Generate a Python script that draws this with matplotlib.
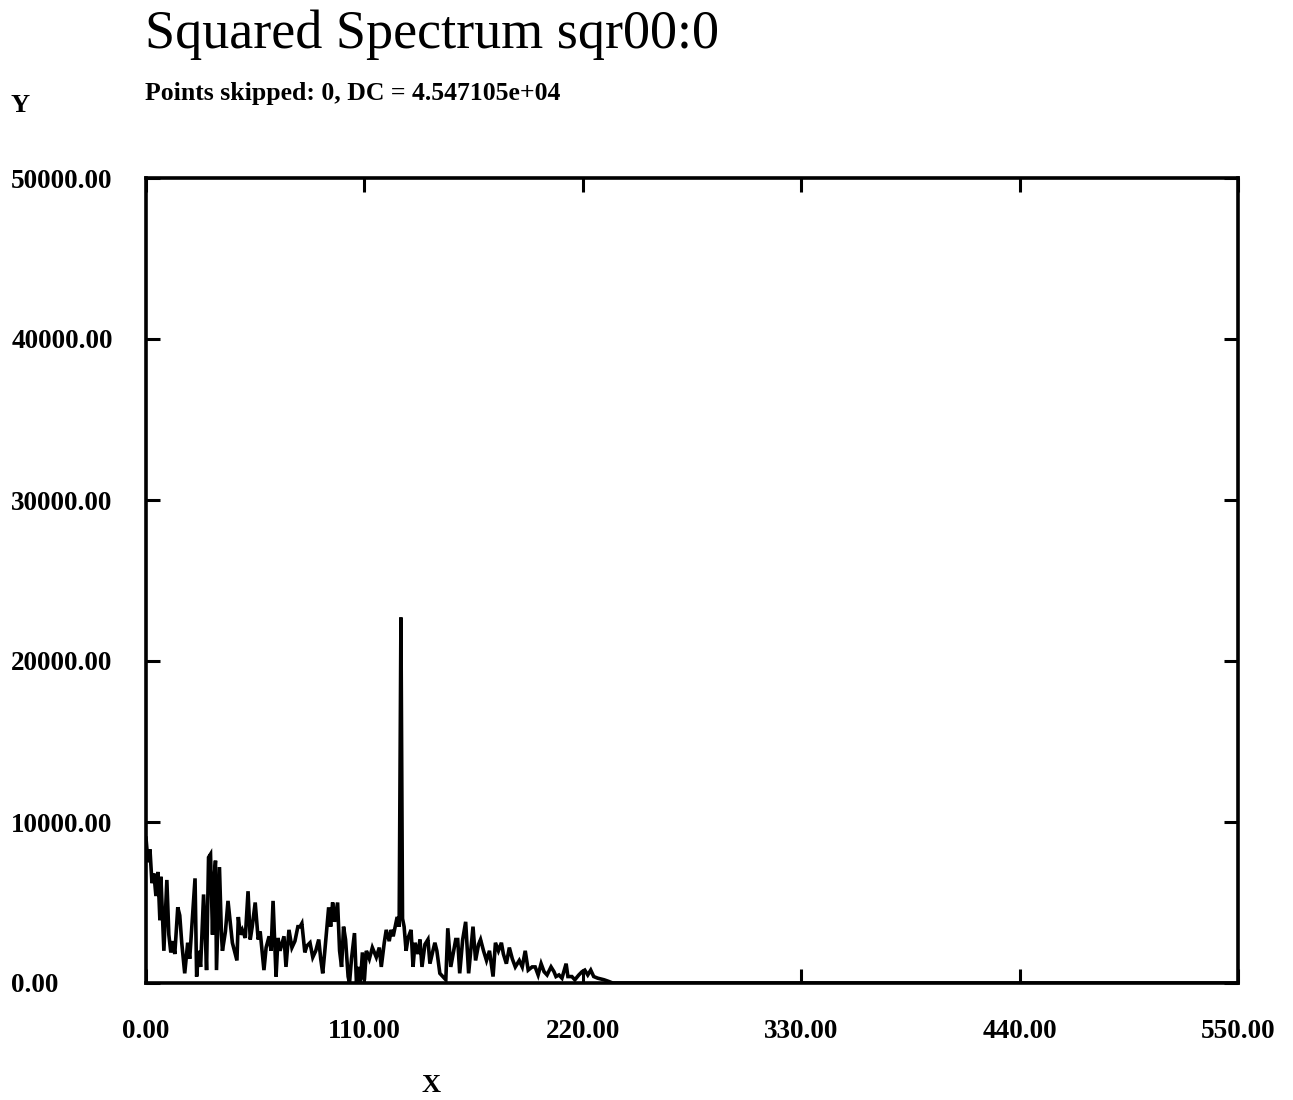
import matplotlib
matplotlib.use("Agg")
import matplotlib.pyplot as plt

plt.rcParams['font.family'] = ['Liberation Serif', 'DejaVu Serif']

# squared spectrum, frequency bin vs power
freq = [0, 1, 2, 3, 4, 5, 6, 7, 7.5, 9, 10.5, 11.5, 12.5, 13.5, 14.5, 16, 17, 18,
        19.5, 21, 22, 24.7, 25.5, 26.5, 27.5, 29, 30, 30.5, 31.5, 32.5, 33.5, 34,
        35, 35.5, 36.5, 37, 38, 38.5, 40, 41.3, 42.5, 43.5, 45.8, 46.5, 47.5, 48.5,
        50, 51.4, 52.5, 53.5, 55, 56.5, 57.5, 59.4, 60.5, 62, 63, 64, 65.5, 66.5,
        67.5, 69.5, 70.5, 72, 73.5, 75, 76.5, 77.6, 78.5, 80, 81, 82.6, 84, 85.5,
        87, 88, 89, 90, 92, 93, 94, 95, 96.5, 97.5, 98.5, 99.5, 100.5, 101.8, 102.5,
        103.5, 105, 106, 107, 108, 109, 110, 111, 112.5, 114, 116, 117.5, 118.5,
        120, 121, 122.5, 123.5, 124.5, 125.5, 126.5, 127.5, 128.4, 129.2, 130, 131,
        132, 133.5, 134.5, 135.5, 137, 138, 139, 140.5, 142, 143, 144.5, 145.5,
        146.5, 148, 151, 152, 153.5, 155, 156, 157, 158, 159.5, 161, 162.5, 164.7,
        166, 167.5, 168.5, 170, 171.5, 173, 174.8, 176, 177.5, 179, 180, 181.5, 183,
        184.5, 186, 188, 189.5, 191, 192.5, 194.5, 196, 197.5, 199, 200.5, 202, 204,
        205.5, 206.5, 208, 209.5, 211.6, 212.5, 214.5, 216, 218, 219.6, 221, 222.5,
        224, 225.5, 227.5, 230.7, 233, 235, 550]
power = [9000, 7500, 8300, 6200, 6800, 5400, 6900, 3900, 6600, 2000, 6400, 3000,
         1900, 2600, 1800, 4700, 4200, 2500, 600, 2500, 1500, 6500, 400, 2000, 1000,
         5500, 2500, 800, 7800, 8000, 3000, 6000, 7600, 800, 5000, 7200, 3000, 2000,
         3200, 5100, 3700, 2500, 1400, 4100, 3000, 3300, 2800, 5700, 2700, 3500,
         5000, 2700, 3200, 800, 2200, 2900, 2000, 5100, 400, 2800, 2000, 2900, 1000,
         3300, 2200, 2600, 3500, 3500, 3700, 1900, 2300, 2500, 1600, 2000, 2700,
         1500, 600, 1900, 4700, 3500, 5000, 3800, 5000, 2000, 1000, 3500, 2700, 400,
         0, 1500, 3100, 0, 1000, 0, 1900, 200, 2000, 1500, 2200, 1600, 2200, 1000,
         2500, 3300, 2600, 3300, 2900, 3500, 4100, 3500, 22700, 4000, 3500, 2000,
         2800, 3300, 1000, 2500, 1800, 2700, 1000, 2400, 2700, 1200, 2000, 2500,
         2000, 600, 200, 3400, 1000, 2000, 2700, 2700, 600, 2700, 3800, 600, 3500,
         1400, 2400, 2700, 2000, 1400, 2000, 400, 2500, 2000, 2500, 1800, 1200,
         2200, 1500, 1000, 1400, 1000, 2000, 800, 1000, 1000, 500, 1200, 700, 500,
         1000, 700, 400, 500, 300, 1200, 400, 400, 200, 500, 700, 800, 500, 800, 400,
         300, 200, 100, 0, 0]

xticks = [0, 110, 220, 330, 440, 550]
yticks = [0, 10000, 20000, 30000, 40000, 50000]

fig = plt.figure(figsize=(12.93, 11), dpi=100)
ax = fig.add_axes([146/1293, 1 - 983/1100, 1092/1293, 805/1100])

ax.plot(freq, power, color='black', lw=2.6, solid_joinstyle='miter')

ax.set_xlim(0, 550)
ax.set_ylim(0, 50000)
for s in ax.spines.values():
    s.set_linewidth(2.6)

ax.set_xticks(xticks)
ax.set_yticks(yticks)
ax.set_xticklabels([f"{v:.2f}" for v in xticks])
ax.set_yticklabels([f"{v:.2f}" for v in yticks])
ax.tick_params(direction='in', length=10, width=2.2, top=True, right=True,
               labelsize=19.5)
ax.tick_params(axis='x', pad=26)
ax.tick_params(axis='y', pad=97)
for lab in ax.get_yticklabels():
    lab.set_horizontalalignment('left')
for lab in ax.get_xticklabels() + ax.get_yticklabels():
    lab.set_fontweight('bold')

ax.set_xlabel('X', fontsize=19, fontweight='bold', va='baseline')
ax.xaxis.set_label_coords(0.261, -0.1354)
ax.set_ylabel('Y', fontsize=19, fontweight='bold', rotation=0, ha='left', va='baseline')
ax.yaxis.set_label_coords(-0.1245, 1.082)

fig.text(145/1293, 1 - 48/1100, 'Squared Spectrum sqr00:0', fontsize=39,
         ha='left', va='baseline')
fig.text(145/1293, 1 - 100/1100, 'Points skipped: 0, DC = 4.547105e+04',
         fontsize=18.5, fontweight='bold', ha='left', va='baseline')

fig.savefig('out.png', dpi=100, facecolor='white')
